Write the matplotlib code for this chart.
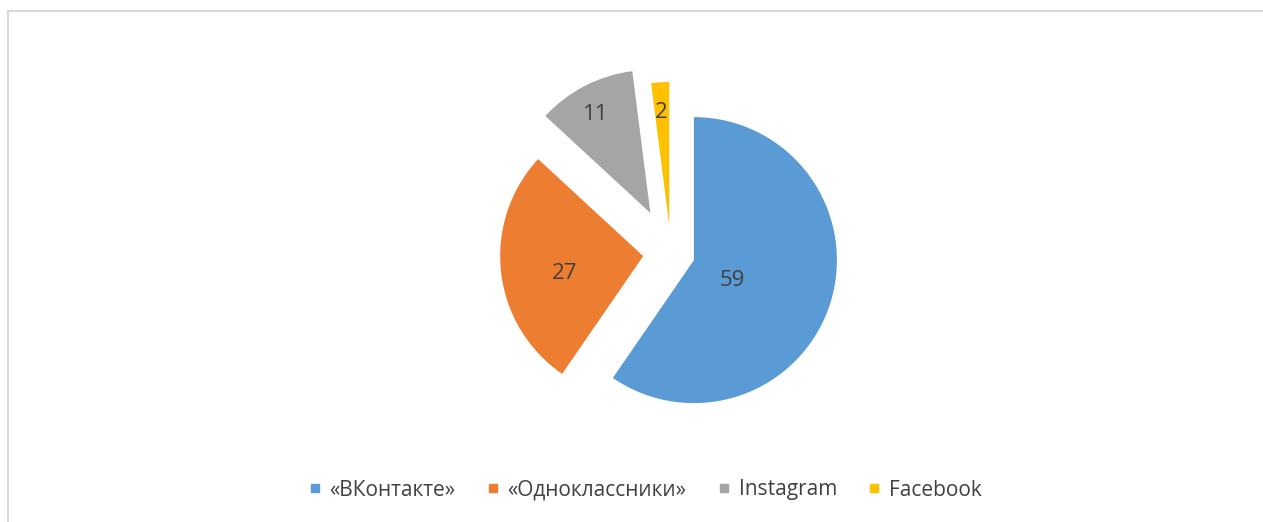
import matplotlib.pyplot as plt
import numpy as np
from matplotlib.lines import Line2D

plt.rcParams["font.family"] = ["Open Sans", "DejaVu Sans"]

# data
categories = ["«ВКонтакте»", "«Одноклассники»", "Instagram", "Facebook"]
values = [59, 27, 11, 2]
colors = ["#5B9BD5", "#ED7D31", "#A5A5A5", "#FFC000"]
explode_px = [24, 28, 45, 28]
label_dist = [0.28, 0.55, 0.84, 0.85]

W, H = 1263, 522
fig = plt.figure(figsize=(W / 100, H / 100), dpi=100)
ax = fig.add_axes([0, 0, 1, 1])

radius = 143
center = (671, H - 253)
# note: pie explode offsets are in data units, not scaled by radius
wedges, _ = ax.pie(
    values,
    colors=colors,
    startangle=90,
    counterclock=False,
    radius=radius,
    center=center,
    explode=explode_px,
    frame=True,
    wedgeprops=dict(linewidth=0),
)

for w, v, d in zip(wedges, values, label_dist):
    mid = np.deg2rad((w.theta1 + w.theta2) / 2)
    cx, cy = w.center
    ax.text(cx + d * w.r * np.cos(mid), cy + d * w.r * np.sin(mid) - 6, str(v),
            ha="center", va="center_baseline", fontsize=16, color="#404040")

ax.set_xlim(0, W)
ax.set_ylim(0, H)
ax.set_aspect("equal")
ax.axis("off")

# chart border (top and left visible)
fig.add_artist(Line2D([7.5 / W, 1], [1 - 10.5 / H, 1 - 10.5 / H], color="#D9D9D9", lw=1.5))
fig.add_artist(Line2D([7.5 / W, 7.5 / W], [0, 1 - 10.5 / H], color="#D9D9D9", lw=1.5))

handles = [Line2D([], [], marker="s", linestyle="none", markersize=6,
                  markerfacecolor=c, markeredgecolor=c) for c in colors]
fig.legend(handles, categories, loc="center", bbox_to_anchor=(645 / W, 1 - 490 / H),
           ncol=4, frameon=False, fontsize=15, labelcolor="#404040",
           handlelength=0.6, handletextpad=0.4, columnspacing=1.5)

fig.savefig("out.png", dpi=100)
